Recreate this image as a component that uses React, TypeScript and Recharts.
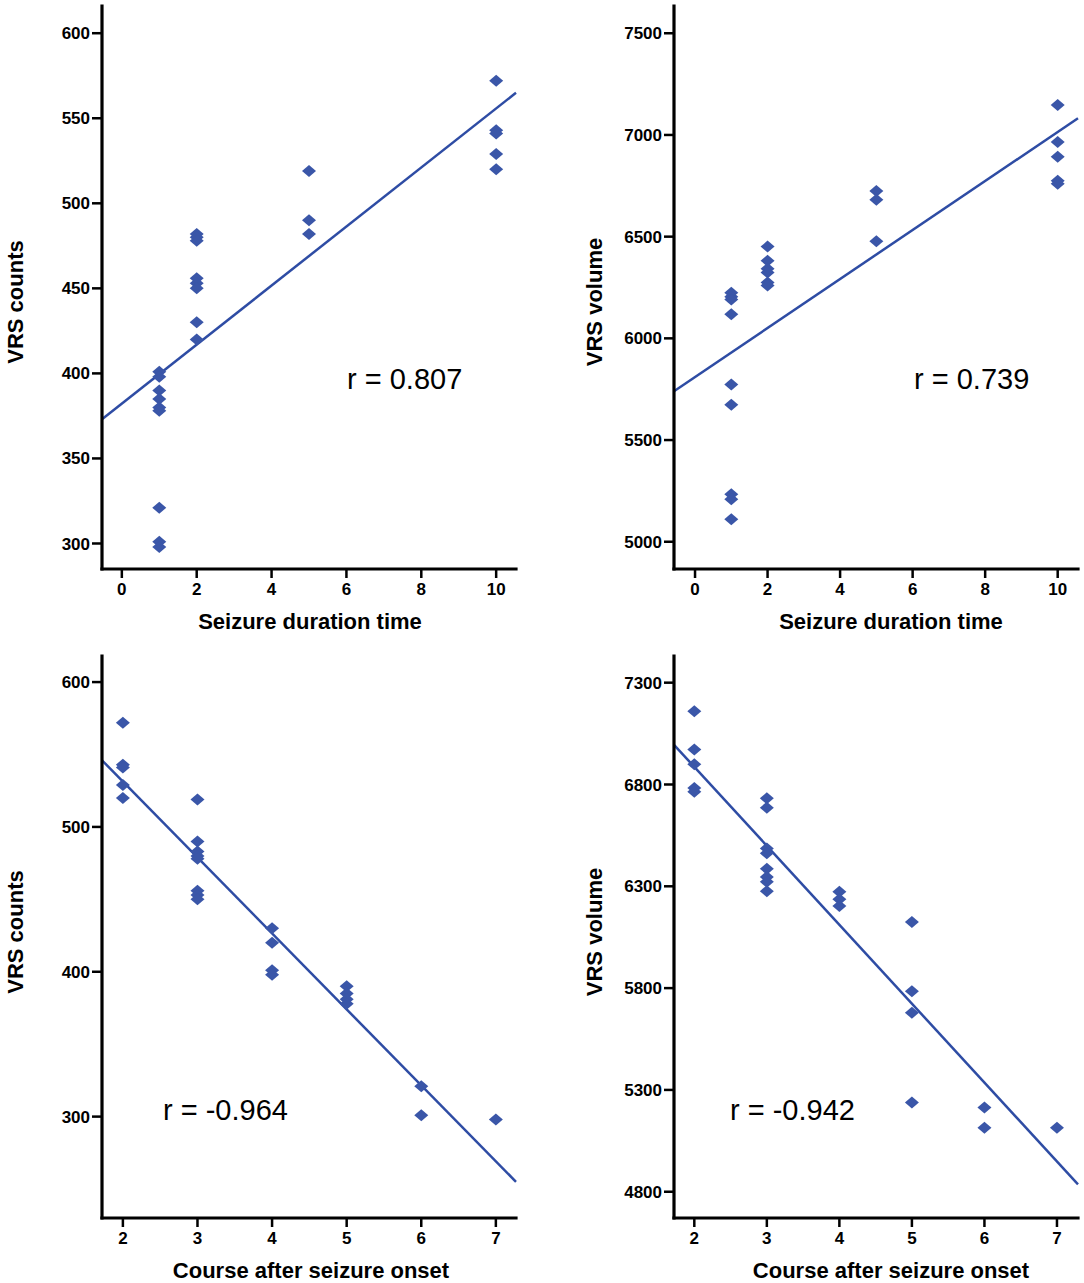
import React from "react";
import { ScatterChart, Scatter, XAxis, YAxis, ReferenceLine, Label } from "recharts";

// seizure duration time vs VRS counts
const durationForCounts = [1, 1, 1, 1, 1, 1, 1, 1, 1, 2, 2, 2, 2, 2, 2, 2, 2, 5, 5, 5, 10, 10, 10, 10, 10];
const countsByDuration = [401, 398, 390, 385, 380, 378, 321, 301, 298, 482, 480, 478, 456, 453, 450, 430, 420, 519, 490, 482, 572, 543, 541, 529, 520];

// seizure duration time vs VRS volume
const durationForVolume = [1, 1, 1, 1, 1, 1, 1, 1, 1, 2, 2, 2, 2, 2, 2, 5, 5, 5, 10, 10, 10, 10, 10];
const volumeByDuration = [6224, 6205, 6191, 6118, 5773, 5673, 5233, 5209, 5111, 6451, 6382, 6342, 6324, 6275, 6260, 6724, 6682, 6478, 7147, 6965, 6893, 6775, 6760];

// course after seizure onset vs VRS counts
const courseForCounts = [2, 2, 2, 2, 2, 3, 3, 3, 3, 3, 3, 3, 3, 4, 4, 4, 4, 5, 5, 5, 5, 6, 6, 7];
const countsByCourse = [572, 543, 541, 529, 520, 519, 490, 483, 480, 478, 456, 453, 450, 430, 420, 401, 398, 390, 385, 381, 378, 321, 301, 298];

// course after seizure onset vs VRS volume
const courseForVolume = [2, 2, 2, 2, 2, 3, 3, 3, 3, 3, 3, 3, 3, 4, 4, 4, 5, 5, 5, 5, 6, 6, 7];
const volumeByCourse = [7160, 6972, 6899, 6783, 6764, 6732, 6686, 6486, 6462, 6386, 6346, 6322, 6276, 6273, 6236, 6203, 6125, 5785, 5679, 5238, 5214, 5114, 5114];

// fit line end points
const fitDurationCountsX = [-0.53, 10.53];
const fitDurationCountsY = [373, 565];
const fitDurationVolumeX = [-0.58, 10.56];
const fitDurationVolumeY = [5740, 7082];
const fitCourseCountsX = [1.72, 7.27];
const fitCourseCountsY = [546, 255];
const fitCourseVolumeX = [1.72, 7.29];
const fitCourseVolumeY = [6995, 4836];

const durationTicks = [0, 2, 4, 6, 8, 10];
const courseTicks = [2, 3, 4, 5, 6, 7];
const countsTicksTop = [300, 350, 400, 450, 500, 550, 600];
const volumeTicksTop = [5000, 5500, 6000, 6500, 7000, 7500];
const countsTicksBottom = [300, 400, 500, 600];
const volumeTicksBottom = [4800, 5300, 5800, 6300, 6800, 7300];

const rValues = ["r = 0.807", "r = 0.739", "r = -0.964", "r = -0.942"];

const FONT = "'Liberation Sans', Arial, Helvetica, sans-serif";
const DOT = "#3a56a8";
const LINE = "#2e4ca4";

const Diamond = (props: any) => {
  const { cx, cy } = props;
  if (cx == null || cy == null) return null;
  return (
    <polygon
      points={`${cx - 7},${cy} ${cx},${cy - 6} ${cx + 7},${cy} ${cx},${cy + 6}`}
      fill={DOT}
    />
  );
};

interface PanelProps {
  left: number;
  top: number;
  width: number;
  height: number;
  axisX: number;
  plotRight: number;
  plotTop: number;
  plotBottom: number;
  xDomain: number[];
  yDomain: number[];
  xTicks: number[];
  yTicks: number[];
  xs: number[];
  ys: number[];
  fitX: number[];
  fitY: number[];
  xTitle: string;
  yTitle: string;
  xTitleCx: number;
  yTitleX: number;
  yTitleCy: number;
  rText: string;
  rLeft: number;
  rCy: number;
}

function Panel(p: PanelProps) {
  const data = p.xs.map((x, i) => ({ x, y: p.ys[i] }));
  const axisLine = { stroke: "#000", strokeWidth: 3.2, strokeLinecap: "square" as const };
  const tickLine = { stroke: "#000", strokeWidth: 2.5 };
  const tick = { fill: "#000", fontSize: 17, fontWeight: 700, fontFamily: FONT };
  const xTitleY = p.plotBottom + 60 - p.top;

  return (
    <>
      <div style={{ position: "absolute", left: p.left, top: p.top }}>
        <ScatterChart
          width={p.width}
          height={p.height}
          margin={{ top: p.plotTop - p.top, right: p.left + p.width - p.plotRight, bottom: 0, left: 0 }}
        >
          <XAxis
            type="number"
            dataKey="x"
            domain={p.xDomain}
            ticks={p.xTicks}
            interval={0}
            allowDataOverflow
            height={p.top + p.height - p.plotBottom}
            tickSize={9}
            tickMargin={5}
            axisLine={axisLine}
            tickLine={tickLine}
            tick={tick}
          >
            <Label
              content={() => (
                <text
                  x={p.xTitleCx - p.left}
                  y={xTitleY}
                  textAnchor="middle"
                  fontFamily={FONT}
                  fontWeight={700}
                  fontSize={22}
                  fill="#000"
                >
                  {p.xTitle}
                </text>
              )}
            />
          </XAxis>
          <YAxis
            type="number"
            dataKey="y"
            domain={p.yDomain}
            ticks={p.yTicks}
            interval={0}
            allowDataOverflow
            width={p.axisX - p.left}
            tickSize={10}
            tickMargin={2}
            axisLine={axisLine}
            tickLine={tickLine}
            tick={tick}
          >
            <Label
              content={() => (
                <text
                  x={p.yTitleX - p.left}
                  y={p.yTitleCy - p.top}
                  transform={`rotate(-90, ${p.yTitleX - p.left}, ${p.yTitleCy - p.top})`}
                  textAnchor="middle"
                  fontFamily={FONT}
                  fontWeight={700}
                  fontSize={22}
                  fill="#000"
                >
                  {p.yTitle}
                </text>
              )}
            />
          </YAxis>
          <ReferenceLine
            segment={[
              { x: p.fitX[0], y: p.fitY[0] },
              { x: p.fitX[1], y: p.fitY[1] },
            ]}
            stroke={LINE}
            strokeWidth={2.5}
            ifOverflow="visible"
          />
          <Scatter data={data} shape={<Diamond />} isAnimationActive={false} />
        </ScatterChart>
      </div>
      <div
        style={{
          position: "absolute",
          left: p.rLeft,
          top: p.rCy - 14.5,
          fontFamily: FONT,
          fontSize: 29,
          lineHeight: "29px",
          color: "#000",
          whiteSpace: "nowrap",
        }}
      >
        {p.rText}
      </div>
    </>
  );
}

export default function App() {
  return (
    <div style={{ position: "absolute", left: 0, top: 0, width: 1084, height: 1283, background: "#fff" }}>
      <Panel
        left={0} top={0} width={540} height={645}
        axisX={102} plotRight={516} plotTop={6} plotBottom={569}
        xDomain={[-0.53, 10.53]} yDomain={[285, 616]}
        xTicks={durationTicks} yTicks={countsTicksTop}
        xs={durationForCounts} ys={countsByDuration}
        fitX={fitDurationCountsX} fitY={fitDurationCountsY}
        xTitle="Seizure duration time" yTitle="VRS counts"
        xTitleCx={310} yTitleX={23} yTitleCy={302}
        rText={rValues[0]} rLeft={347} rCy={379}
      />
      <Panel
        left={560} top={0} width={524} height={645}
        axisX={674} plotRight={1078} plotTop={6} plotBottom={569}
        xDomain={[-0.58, 10.56]} yDomain={[4866, 7634]}
        xTicks={durationTicks} yTicks={volumeTicksTop}
        xs={durationForVolume} ys={volumeByDuration}
        fitX={fitDurationVolumeX} fitY={fitDurationVolumeY}
        xTitle="Seizure duration time" yTitle="VRS volume"
        xTitleCx={891} yTitleX={602} yTitleCy={302}
        rText={rValues[1]} rLeft={914} rCy={379}
      />
      <Panel
        left={0} top={645} width={540} height={638}
        axisX={102} plotRight={516} plotTop={656} plotBottom={1218}
        xDomain={[1.72, 7.27]} yDomain={[230, 618]}
        xTicks={courseTicks} yTicks={countsTicksBottom}
        xs={courseForCounts} ys={countsByCourse}
        fitX={fitCourseCountsX} fitY={fitCourseCountsY}
        xTitle="Course after seizure onset" yTitle="VRS counts"
        xTitleCx={311} yTitleX={23} yTitleCy={932}
        rText={rValues[2]} rLeft={163} rCy={1110}
      />
      <Panel
        left={560} top={645} width={524} height={638}
        axisX={674} plotRight={1078} plotTop={656} plotBottom={1218}
        xDomain={[1.72, 7.29]} yDomain={[4671, 7431]}
        xTicks={courseTicks} yTicks={volumeTicksBottom}
        xs={courseForVolume} ys={volumeByCourse}
        fitX={fitCourseVolumeX} fitY={fitCourseVolumeY}
        xTitle="Course after seizure onset" yTitle="VRS volume"
        xTitleCx={891} yTitleX={602} yTitleCy={932}
        rText={rValues[3]} rLeft={730} rCy={1110}
      />
    </div>
  );
}
